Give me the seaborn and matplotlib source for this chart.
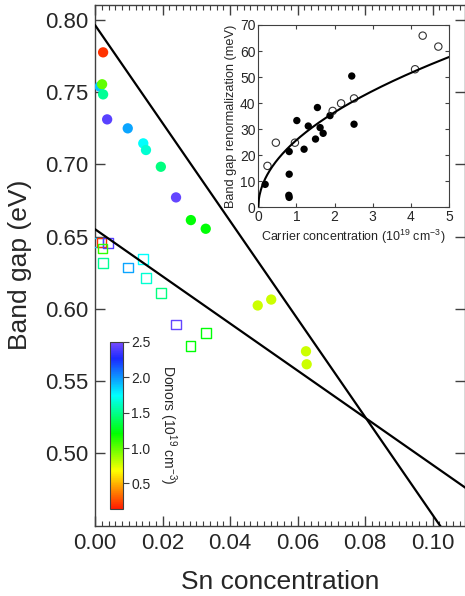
import numpy as np
import pandas as pd
import matplotlib
matplotlib.use("Agg")
import matplotlib.pyplot as plt
import seaborn as sns
from matplotlib.colors import LinearSegmentedColormap, Normalize
from matplotlib.cm import ScalarMappable
from matplotlib.ticker import MultipleLocator, FormatStrFormatter

# ---------------- data ----------------
# main panel: filled circles (band gap) and open squares
sn_filled = [0.0024, 0.0014, 0.0021, 0.0024, 0.0036, 0.0097, 0.0143, 0.0151,
             0.0195, 0.0240, 0.0284, 0.0328, 0.0482, 0.0522, 0.0625, 0.0627]
gap_filled = [0.7776, 0.7539, 0.7555, 0.7485, 0.7312, 0.7250, 0.7146, 0.7100,
              0.6984, 0.6772, 0.6615, 0.6555, 0.6024, 0.6065, 0.5707, 0.5617]
donors_filled = [0.20, 1.90, 1.00, 1.52, 2.41, 1.96, 1.74, 1.65,
                 1.47, 2.44, 1.21, 1.21, 0.78, 0.78, 0.78, 0.78]

sn_open = [0.0009, 0.0019, 0.0038, 0.0022, 0.0023, 0.0097, 0.0143, 0.0150,
           0.0195, 0.0239, 0.0328, 0.0283]
gap_open = [0.6460, 0.6460, 0.6457, 0.6418, 0.6319, 0.6287, 0.6344, 0.6215,
            0.6111, 0.5892, 0.5834, 0.5742]
donors_open = [1.90, 0.20, 2.40, 1.10, 1.52, 1.96, 1.74, 1.65,
               1.47, 2.44, 1.21, 1.21]

# linear fits: band gap = intercept + slope * Sn
fit_intercepts = [0.7965, 0.6552]
fit_slopes = [-3.39, -1.631]

# inset: band gap renormalization vs carrier concentration
carrier_filled = [0.18, 0.81, 0.81, 0.80, 0.81, 1.01, 1.20, 1.31, 1.50, 1.55,
                  1.62, 1.70, 1.88, 2.45, 2.51]
bgr_filled = [8.8, 21.4, 12.7, 4.6, 3.8, 33.3, 22.3, 31.2, 26.2, 38.3,
              30.6, 28.4, 35.2, 50.4, 31.9]
carrier_open = [0.24, 0.46, 0.96, 1.95, 2.17, 2.51, 4.11, 4.31, 4.72]
bgr_open = [15.9, 24.8, 24.8, 37.0, 39.9, 41.8, 53.0, 65.9, 61.7]
fit_amp = 25.8      # meV per (1e19 cm^-3)^0.5
fit_power = 0.5

donor_range = (0.14, 2.5)

# ---------------- style ----------------
sns.set_theme(style="ticks")
plt.rcParams["font.family"] = ["Liberation Sans", "DejaVu Sans"]
plt.rcParams["mathtext.fontset"] = "custom"
plt.rcParams["mathtext.rm"] = "Liberation Sans"
plt.rcParams["mathtext.it"] = "Liberation Sans:italic"
spine_c = "#404040"

# rainbow colormap: red -> yellow -> green -> cyan -> blue -> violet
cmap = LinearSegmentedColormap.from_list(
    "igor_rainbow",
    [(0.0, "#ff1a00"), (0.226, "#ffff00"), (0.45, "#00ff00"),
     (0.68, "#00ffff"), (0.90, "#1a2aff"), (1.0, "#7b4dff")])
norm = Normalize(*donor_range)

fig = plt.figure(figsize=(4.65, 5.96), dpi=100)
ax = fig.add_axes([0.2043, 0.118, 0.7957, 0.8737])

df_f = pd.DataFrame({"sn": sn_filled, "gap": gap_filled, "donors": donors_filled})
df_o = pd.DataFrame({"sn": sn_open, "gap": gap_open, "donors": donors_open})

sns.scatterplot(data=df_f, x="sn", y="gap", hue="donors", palette=cmap,
                hue_norm=donor_range, s=55, edgecolor="none", legend=False,
                ax=ax, zorder=3)
sns.scatterplot(data=df_o, x="sn", y="gap", hue="donors", palette=cmap,
                hue_norm=donor_range, s=50, marker="s", linewidth=1.0,
                legend=False, ax=ax, zorder=3)
sq = ax.collections[-1]
sq.set_edgecolors(sq.get_facecolors())
sq.set_facecolors("none")

xline = np.array([0.0, 0.12])
for b, m in zip(fit_intercepts, fit_slopes):
    sns.lineplot(x=xline, y=b + m * xline, color="black", lw=1.6, ax=ax, zorder=4)

ax.set_xlim(0, 0.1096)
ax.set_ylim(0.45, 0.8104)
ax.set_xticks(np.arange(0, 0.101, 0.02))
ax.xaxis.set_minor_locator(MultipleLocator(0.002))
ax.set_yticks(np.arange(0.5, 0.801, 0.05))
ax.xaxis.set_major_formatter(FormatStrFormatter("%.2f"))
ax.yaxis.set_major_formatter(FormatStrFormatter("%.2f"))
ax.tick_params(which="both", direction="in", top=True, right=True,
               color=spine_c, labelsize=16, pad=5)
ax.tick_params(which="major", length=7, width=1)
ax.tick_params(which="minor", length=3.5, width=0.8)
for s in ax.spines.values():
    s.set_color(spine_c)
    s.set_linewidth(1)
ax.set_xlabel("Sn concentration", fontsize=19, labelpad=12)
ax.set_ylabel("Band gap (eV)", fontsize=19, labelpad=9)

# colorbar inside main axes
cax = fig.add_axes([0.2366, 0.146, 0.0273, 0.2807])
cb = fig.colorbar(ScalarMappable(norm=norm, cmap=cmap), cax=cax)
cb.set_ticks([0.5, 1.0, 1.5, 2.0, 2.5])
cb.ax.yaxis.set_major_formatter(FormatStrFormatter("%.1f"))
cb.ax.tick_params(labelsize=10, length=4, width=0.8, color=spine_c, pad=2)
cb.outline.set_edgecolor(spine_c)
cb.outline.set_linewidth(0.8)
cb.set_label("Donors (10$^{19}$ cm$^{-3}$)", rotation=270, fontsize=10,
             labelpad=5, va="bottom")

# inset
ax2 = fig.add_axes([0.5555, 0.6522, 0.4101, 0.3059])
df_if = pd.DataFrame({"n": carrier_filled, "bgr": bgr_filled})
df_io = pd.DataFrame({"n": carrier_open, "bgr": bgr_open})
sns.scatterplot(data=df_if, x="n", y="bgr", color="black", s=28,
                edgecolor="none", ax=ax2, zorder=3)
sns.scatterplot(data=df_io, x="n", y="bgr", color="black", s=28,
                linewidth=0.8, ax=ax2, zorder=3)
oc = ax2.collections[-1]
oc.set_facecolors("none")
oc.set_edgecolors("#333333")
xf = np.linspace(0, 5, 300)
sns.lineplot(x=xf, y=fit_amp * xf ** fit_power, color="black", lw=1.5, ax=ax2, zorder=4)
ax2.set_xlim(0, 5)
ax2.set_ylim(0, 70)
ax2.set_xticks(range(0, 6))
ax2.set_yticks(range(0, 71, 10))
ax2.tick_params(which="both", direction="in", top=True, right=True,
                color=spine_c, labelsize=10, length=3, width=0.8, pad=2)
for s in ax2.spines.values():
    s.set_color(spine_c)
    s.set_linewidth(0.8)
ax2.set_xlabel("Carrier concentration (10$^{19}$ cm$^{-3}$)", fontsize=9, labelpad=3)
ax2.set_ylabel("Band gap renormalization (meV)", fontsize=9.2, labelpad=2)

fig.savefig("out.png", dpi=100)
